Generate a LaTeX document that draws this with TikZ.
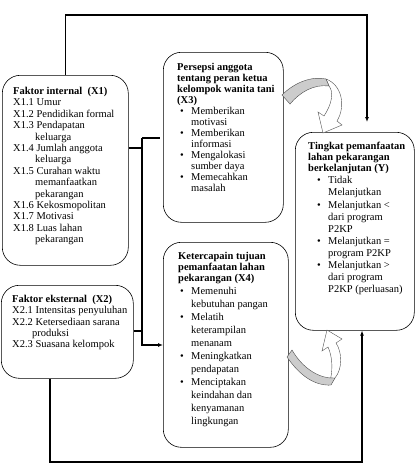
\documentclass[tikz,border=0pt]{standalone}
\usepackage{fontspec}
\setmainfont{Liberation Serif}
\usetikzlibrary{arrows.meta}
\newcommand{\itm}[2]{\hspace*{#1}\makebox[11pt][l]{\textbullet}#2}
\newcommand{\cnt}[2]{\hspace*{#1}\hspace*{11pt}#2}

\begin{document}
\begin{tikzpicture}[x=1pt,y=-1pt]
\tikzstyle{box}=[draw,rounded corners=18pt,line width=0.6pt,anchor=north west,inner sep=0pt]
\tikzstyle{txt}=[anchor=north west,inner sep=0pt,align=left]
\tikzstyle{conn}=[line width=1.1pt]
\tikzstyle{warrow}=[fill=white,draw=black!70,line width=0.4pt]
\tikzstyle{gband}=[fill=gray!40,draw=black!70,line width=0.4pt]
\useasboundingbox (0,0) rectangle (416,471);
% boxes
\node[box,minimum width=126,minimum height=190] (x1) at (2,75) {};
\node[box,minimum width=132,minimum height=93] (x2) at (1,285) {};
\node[box,minimum width=120,minimum height=170] (x3) at (163,52) {};
\node[box,minimum width=125,minimum height=205] (x4) at (163,242) {};
\node[box,minimum width=119,minimum height=198] (y) at (295,132) {};
% texts
\node[txt,font=\fontsize{10.5}{11.4}\selectfont] (x1t) at (13,87) {\textbf{Faktor internal~~(X1)}\\
X1.1 Umur\\ X1.2 Pendidikan formal\\ X1.3 Pendapatan\\ \hspace*{22pt}keluarga\\
X1.4 Jumlah anggota\\ \hspace*{22pt}keluarga\\ X1.5 Curahan waktu\\ \hspace*{22pt}memanfaatkan\\
\hspace*{22pt}pekarangan\\ X1.6 Kekosmopolitan\\ X1.7 Motivasi\\ X1.8 Luas lahan\\ \hspace*{22pt}pekarangan};
\node[txt,font=\fontsize{10.5}{11.3}\selectfont] (x2t) at (12,295) {\textbf{Faktor eksternal~~(X2)}\\
X2.1 Intensitas penyuluhan\\ X2.2 Ketersediaan sarana\\ \hspace*{20pt}produksi\\ X2.3 Suasana kelompok};
\node[txt,font=\fontsize{10.5}{11}\selectfont] (x3t) at (177,63) {\textbf{Persepsi anggota}\\
\textbf{tentang peran ketua}\\ \textbf{kelompok wanita tani}\\ \textbf{(X3)}\\
\itm{3pt}{Memberikan}\\ \cnt{3pt}{motivasi}\\ \itm{3pt}{Memberikan}\\ \cnt{3pt}{informasi}\\
\itm{3pt}{Mengalokasi}\\ \cnt{3pt}{sumber daya}\\ \itm{3pt}{Memecahkan}\\ \cnt{3pt}{masalah}};
\node[txt,font=\fontsize{10.5}{13}\selectfont] (x4t) at (178,252) {\textbf{Ketercapain tujuan}\\[-2pt]
\textbf{pemanfaatan lahan}\\[-2pt] \textbf{pekarangan (X4)}\\
\itm{2pt}{Memenuhi}\\ \cnt{2pt}{kebutuhan pangan}\\ \itm{2pt}{Melatih}\\ \cnt{2pt}{keterampilan}\\
\cnt{2pt}{menanam}\\ \itm{2pt}{Meningkatkan}\\ \cnt{2pt}{pendapatan}\\ \itm{2pt}{Menciptakan}\\
\cnt{2pt}{keindahan dan}\\ \cnt{2pt}{kenyamanan}\\ \cnt{2pt}{lingkungan}};
\node[txt,font=\fontsize{10.5}{12.1}\selectfont] (yt) at (308,142) {\textbf{Tingkat pemanfaatan}\\[-1pt]
\textbf{lahan pekarangan}\\[-1pt] \textbf{berkelanjutan (Y)}\\
\itm{9pt}{Tidak}\\ \cnt{9pt}{Melanjutkan}\\ \itm{9pt}{Melanjutkan <}\\ \cnt{9pt}{dari program}\\
\cnt{9pt}{P2KP}\\ \itm{9pt}{Melanjutkan =}\\ \cnt{9pt}{program P2KP}\\ \itm{9pt}{Melanjutkan >}\\
\cnt{9pt}{dari program}\\ \cnt{9pt}{P2KP (perluasan)}};
% connectors
\coordinate (tr) at (367,15);
\draw[conn,-{Latex[length=5pt,width=4pt]},shorten >=10pt] (x1.north) |- (tr) -- (tr |- y.north);
\coordinate (bl) at (50,462);
\coordinate (br) at (362,462);
\draw[conn,-{Latex[length=5pt,width=4pt]}] (bl |- x2.south) -- (bl) -- (br) -- (br |- y.south);
\coordinate (ja) at (142,138);
\coordinate (jb) at (142,345);
\coordinate (j1) at (142,148);
\coordinate (j2) at (142,331);
\draw[conn] (j1 -| x1.east) -- (j1);
\draw[conn] (j2 -| x2.east) -- (j2);
\draw[conn,shorten >=3pt] (ja) -- (ja -| x3.west);
\draw[conn,-{Latex[length=5pt,width=4pt]}] (ja) -- (jb) -- (jb -| x4.west);
% curved block arrows
\draw[warrow] (326,79) .. controls (342,85) and (346,106) .. (337,121) -- (342,125) -- (323,133) -- (318,112) -- (324,116) .. controls (332,104) and (334,92) .. (329,86) -- cycle;
\draw[gband] (282,95) .. controls (295,82) and (312,76) .. (326,79) -- (329,86) .. controls (314,84) and (300,92) .. (290,104) -- cycle;
\draw[warrow] (335,378) .. controls (343,368) and (342,352) .. (336,343) -- (342,339) -- (327,330) -- (322,351) -- (328,347) .. controls (333,358) and (333,372) .. (329,385) -- cycle;
\draw[gband] (287,357) .. controls (300,376) and (315,386) .. (331,385) -- (335,378) .. controls (320,379) and (303,369) .. (292,350) -- cycle;
\end{tikzpicture}
\end{document}
